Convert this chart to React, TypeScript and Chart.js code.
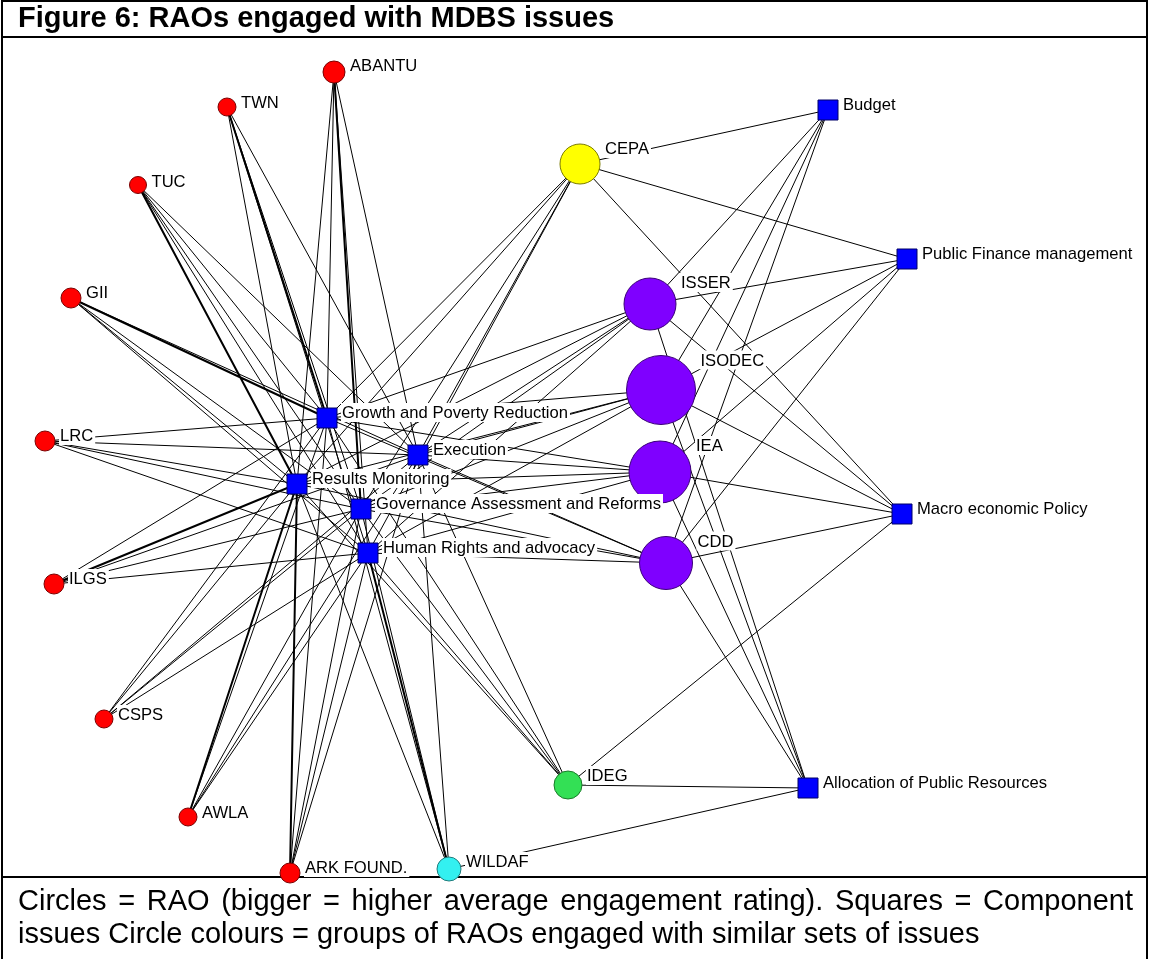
import React, { useEffect, useRef } from "react";
import { Chart, registerables } from "chart.js";

Chart.register(...registerables);

// ---------- DATA ----------
const raoNames = [
  "ABANTU", "TWN", "TUC", "GII", "LRC", "ILGS", "CSPS", "AWLA", "ARK FOUND.",
  "WILDAF", "IDEG", "CEPA", "ISSER", "ISODEC", "IEA", "CDD",
];
// network layout coordinates
const raoX = [334, 227, 138, 71, 45, 54, 104, 188, 290, 449, 568, 580, 650, 661, 660, 666];
const raoY = [72, 107, 185, 298, 441, 584, 719, 817, 873, 869, 785, 164, 304, 390, 472, 563];
// average engagement rating (drives circle size)
const raoEngagement = [1.1, 0.9, 0.85, 1.0, 1.0, 1.0, 0.9, 0.9, 1.0, 1.2, 1.4, 2.0, 2.6, 3.45, 3.1, 2.65];
// group of RAOs engaged with similar sets of issues
const raoGroup = [0, 0, 0, 0, 0, 0, 0, 0, 0, 1, 2, 3, 4, 4, 4, 4];

const issueNames = [
  "Budget", "Public Finance management", "Macro economic Policy",
  "Allocation of Public Resources", "Growth and Poverty Reduction", "Execution",
  "Results Monitoring", "Governance Assessment and Reforms", "Human Rights and advocacy",
];
const issueX = [828, 907, 902, 808, 327, 418, 297, 361, 368];
const issueY = [110, 259, 514, 788, 418, 455, 484, 509, 553];

// issues each RAO is engaged with (indices into issueNames)
const raoIssues = [
  [4, 5, 6, 7, 8],
  [4, 5, 6, 7, 8],
  [4, 5, 6, 7, 8],
  [4, 5, 6, 7, 8],
  [4, 5, 6, 7, 8],
  [4, 5, 6, 7, 8],
  [4, 5, 6, 7, 8],
  [4, 5, 6, 7, 8],
  [4, 5, 6, 7, 8],
  [4, 5, 6, 7, 8, 3],
  [4, 5, 6, 7, 8, 2, 3],
  [4, 5, 6, 7, 8, 0, 1, 2],
  [4, 5, 6, 7, 8, 0, 1, 2, 3],
  [4, 5, 6, 7, 8, 0, 1, 2, 3],
  [4, 5, 6, 7, 8, 0, 1, 2, 3],
  [4, 5, 6, 7, 8, 0, 1, 2, 3],
];
// ties with a stronger engagement (drawn heavier): [rao, issue]
const strongTies = [[3, 4], [1, 4], [0, 7], [8, 6], [9, 8], [7, 6], [5, 6], [2, 6]];

const titleText = "Figure 6: RAOs engaged with MDBS issues";
const captionLine1 = "Circles = RAO (bigger = higher average engagement rating). Squares = Component";
const captionLine2 = "issues Circle colours = groups of RAOs engaged with similar sets of issues";

// ---------- STYLE ----------
const groupFill = ["#ff0000", "#33f0f0", "#33e055", "#ffff00", "#7f00ff"];
const groupBorder = ["#7a0000", "#207a7a", "#1a7a2a", "#7a7a00", "#3a0077"];
const SQUARE_HALF = 10;
const LABEL_FONT = '16.6px "Liberation Sans", Arial, sans-serif';

function buildEdges(strong: boolean) {
  const pts: { x: number; y: number }[] = [];
  raoIssues.forEach((list, r) => {
    list.forEach((i) => {
      const isStrong = strongTies.some((t) => t[0] === r && t[1] === i);
      if (isStrong !== strong) return;
      pts.push({ x: raoX[r], y: raoY[r] });
      pts.push({ x: issueX[i], y: issueY[i] });
      pts.push({ x: NaN, y: NaN });
    });
  });
  return pts;
}

const labelPlugin = {
  id: "nodeLabels",
  afterDatasetsDraw(chart: any) {
    const { ctx } = chart;
    const xs = chart.scales.x;
    const ys = chart.scales.y;
    ctx.save();
    ctx.font = LABEL_FONT;
    ctx.textBaseline = "alphabetic";
    const draw = (name: string, vx: number, vy: number, r: number) => {
      const px = xs.getPixelForValue(vx);
      const py = ys.getPixelForValue(vy);
      const tx = px + r + 5;
      const ty = py - r + 10;
      const w = ctx.measureText(name).width;
      ctx.fillStyle = "#ffffff";
      ctx.fillRect(tx - 1, ty - 15, w + 3, 19);
      ctx.fillStyle = "#000000";
      ctx.fillText(name, tx, ty);
    };
    raoNames.forEach((n, k) => draw(n, raoX[k], raoY[k], raoEngagement[k] * 10));
    issueNames.forEach((n, k) => draw(n, issueX[k], issueY[k], SQUARE_HALF));
    ctx.restore();
  },
};

export default function App() {
  const ref = useRef<HTMLCanvasElement | null>(null);

  useEffect(() => {
    if (!ref.current) return;
    const chart = new Chart(ref.current, {
      type: "scatter",
      data: {
        datasets: [
          {
            type: "line",
            data: buildEdges(false),
            borderColor: "#000000",
            borderWidth: 1,
            pointRadius: 0,
            showLine: true,
            spanGaps: false,
            fill: false,
            tension: 0,
            order: 5,
            clip: false,
          } as any,
          {
            type: "line",
            data: buildEdges(true),
            borderColor: "#000000",
            borderWidth: 2,
            pointRadius: 0,
            showLine: true,
            spanGaps: false,
            fill: false,
            tension: 0,
            order: 4,
            clip: false,
          } as any,
          {
            data: raoNames.map((_, k) => ({ x: raoX[k], y: raoY[k] })),
            pointStyle: "circle",
            pointRadius: raoEngagement.map((v) => v * 10),
            backgroundColor: raoGroup.map((g) => groupFill[g]),
            borderColor: raoGroup.map((g) => groupBorder[g]),
            borderWidth: 1,
            order: 2,
            clip: false,
          } as any,
          {
            data: issueNames.map((_, k) => ({ x: issueX[k], y: issueY[k] })),
            pointStyle: "rect",
            pointRadius: SQUARE_HALF / Math.SQRT1_2,
            backgroundColor: "#0000ff",
            borderColor: "#000066",
            borderWidth: 1,
            order: 1,
            clip: false,
          } as any,
        ],
      },
      options: {
        animation: false,
        responsive: false,
        maintainAspectRatio: false,
        events: [],
        layout: { padding: 0, autoPadding: false },
        scales: {
          x: { type: "linear", min: 0, max: 1149, display: false },
          y: { type: "linear", min: 0, max: 959, reverse: true, display: false },
        },
        plugins: { legend: { display: false }, tooltip: { enabled: false } },
      } as any,
      plugins: [labelPlugin],
    });
    return () => chart.destroy();
  }, []);

  const font = "Arial, 'Liberation Sans', sans-serif";
  const bar = (s: React.CSSProperties) => <div style={{ position: "absolute", background: "#000", ...s }} />;
  return (
    <div style={{ position: "fixed", left: 0, top: 0, width: 1149, height: 959, background: "#fff", overflow: "hidden" }}>
      {bar({ left: 1, top: 0, width: 1147, height: 2 })}
      {bar({ left: 1, top: 0, width: 2, height: 959 })}
      {bar({ left: 1146, top: 0, width: 2, height: 959 })}
      {bar({ left: 1, top: 36, width: 1147, height: 2 })}
      {bar({ left: 1, top: 876, width: 1147, height: 2 })}
      <canvas ref={ref} width={1149} height={959} style={{ position: "absolute", left: 0, top: 0, width: 1149, height: 959 }} />
      <div style={{ position: "absolute", left: 18, top: 1, font: `bold 29px ${font}`, lineHeight: "32px", color: "#000", whiteSpace: "nowrap" }}>
        {titleText}
      </div>
      <div style={{ position: "absolute", left: 18, top: 884, width: 1115, font: `29px ${font}`, lineHeight: "32px", color: "#000", textAlign: "justify", textAlignLast: "justify" as any, whiteSpace: "nowrap" }}>
        {captionLine1}
      </div>
      <div style={{ position: "absolute", left: 18, top: 917, font: `29px ${font}`, lineHeight: "32px", color: "#000", whiteSpace: "nowrap" }}>
        {captionLine2}
      </div>
    </div>
  );
}
